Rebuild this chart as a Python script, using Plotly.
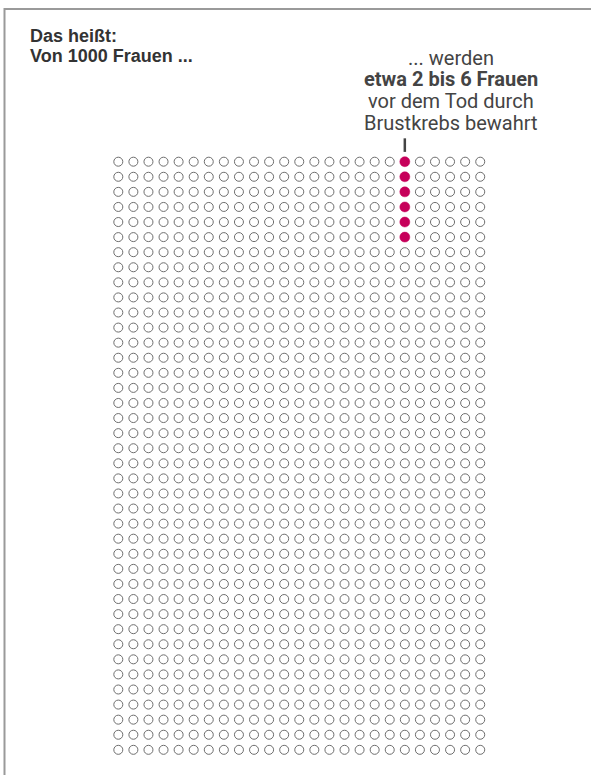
import plotly.graph_objects as go

# ---- data ----
n_cols = 25
n_rows = 40
total_women = 1000
saved_max = 6
highlight_col = 19
title_lines = ["Das heißt:", "Von 1000 Frauen ..."]
note_lines = ["... werden", "<b>etwa 2 bis 6 Frauen</b>", "vor dem Tod durch", "Brustkrebs bewahrt"]

W, H = 591, 775
x0, dx = 118.3, 15.08
y0, dy = 161.7, 15.08

xs, ys = [], []
for i in range(total_women):
    r, c = divmod(i, n_cols)
    xs.append(c)
    ys.append(r)

is_hl = [(x == highlight_col and y < saved_max) for x, y in zip(xs, ys)]
hx = [x for x, h in zip(xs, is_hl) if h]
hy = [y for y, h in zip(ys, is_hl) if h]
ox = [x for x, h in zip(xs, is_hl) if not h]
oy = [y for y, h in zip(ys, is_hl) if not h]

fig = go.Figure()
fig.add_trace(go.Scatter(x=ox, y=oy, mode="markers",
                         marker=dict(symbol="circle", size=9, color="white",
                                     line=dict(color="#6e6e6e", width=1)),
                         hoverinfo="skip", showlegend=False))
fig.add_trace(go.Scatter(x=hx, y=hy, mode="markers",
                         marker=dict(symbol="circle", size=10, color="#c6005a",
                                     line=dict(color="#c6005a", width=0.5)),
                         hoverinfo="skip", showlegend=False))

xr = [(0 - x0) / dx, (W - x0) / dx]
yr = [(H - y0) / dy, (0 - y0) / dy]

def px(p):
    return p / W

def py(p):
    return 1 - p / H

# frame lines
fig.add_shape(type="line", xref="paper", yref="paper", x0=px(4), x1=1.0, y0=py(9), y1=py(9),
              line=dict(color="#9a9a9a", width=2))
fig.add_shape(type="line", xref="paper", yref="paper", x0=px(4.5), x1=px(4.5), y0=py(8), y1=0,
              line=dict(color="#9a9a9a", width=2))
# pointer tick above highlighted column
fig.add_shape(type="line", xref="x", yref="y", x0=highlight_col, x1=highlight_col,
              y0=-1.55, y1=-0.65, line=dict(color="#444444", width=2.5))

anns = []
for k, t in enumerate(title_lines):
    anns.append(dict(text=f"<b>{t}</b>", xref="paper", yref="paper",
                     x=px(28), y=py(36 + 20 * k), xanchor="left", yanchor="middle",
                     showarrow=False, font=dict(family="Liberation Sans", size=18, color="#333333")))
for k, t in enumerate(note_lines):
    anns.append(dict(text=t, xref="paper", yref="paper",
                     x=px(451), y=py(58 + 21.5 * k), xanchor="center", yanchor="middle",
                     showarrow=False, font=dict(family="Roboto", size=20, color="#444444")))

fig.update_layout(width=W, height=H, margin=dict(l=0, r=0, t=0, b=0),
                  paper_bgcolor="white", plot_bgcolor="white",
                  xaxis=dict(range=xr, visible=False, fixedrange=True),
                  yaxis=dict(range=yr, visible=False, fixedrange=True),
                  annotations=anns)

fig.write_html("out.html", config={"displayModeBar": False},
               post_script="document.body.style.margin='0';")
